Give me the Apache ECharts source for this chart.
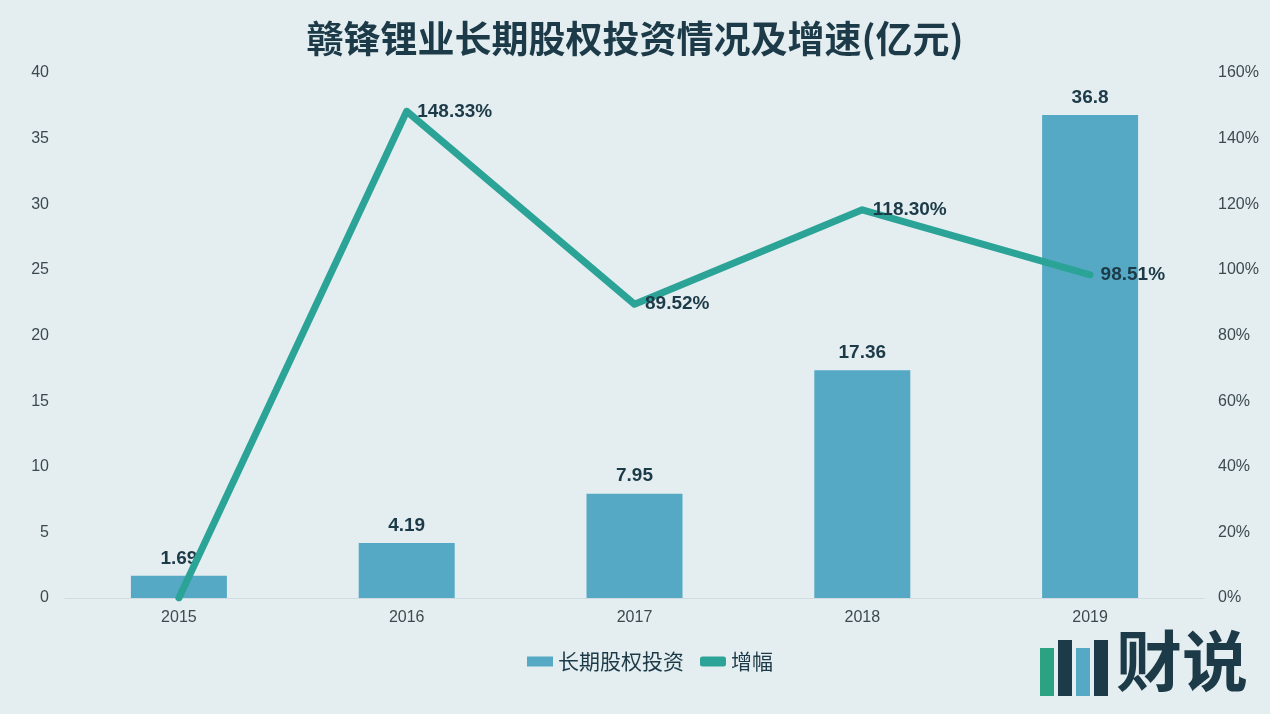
<!DOCTYPE html>
<html>
<head>
<meta charset="utf-8">
<script src="https://cdn.jsdelivr.net/npm/echarts@6/dist/echarts.min.js"></script>
<style>
  html, body { margin: 0; padding: 0; background: #e4eef0; }
  #chart { width: 1270px; height: 714px; }
</style>
</head>
<body>
<div id="chart"></div>
<script>
// 年份
const years = ['2015', '2016', '2017', '2018', '2019'];
// 长期股权投资（亿元）
const investment = [1.69, 4.19, 7.95, 17.36, 36.8];
// 增幅（%）
const growth = [0, 148.33, 89.52, 118.30, 98.51];

const barColor = '#55a9c4';
const lineColor = '#2ba397';
const textDark = '#1c3a48';
const font = '"Liberation Sans", "Noto Sans CJK SC", sans-serif';
const cjkFont = '"Noto Sans CJK SC", sans-serif';

const chart = echarts.init(document.getElementById('chart'));

const option = {
  backgroundColor: '#e4eef0',
  textStyle: { fontFamily: font },
  title: {
    text: '赣锋锂业长期股权投资情况及增速(亿元)',
    left: 'center',
    top: 15,
    textStyle: { color: textDark, fontSize: 37, fontWeight: 'bold', fontFamily: cjkFont },
  },
  legend: {
    bottom: 37,
    left: 522,
    itemGap: 16,
    itemWidth: 26,
    itemHeight: 10,
    textStyle: { color: textDark, fontSize: 21, fontFamily: cjkFont },
    data: [
      { name: '长期股权投资', icon: 'rect' },
      { name: '增幅', icon: 'roundRect' },
    ],
  },
  grid: { left: 65, right: 66, top: 73, bottom: 116 },
  xAxis: {
    type: 'category',
    data: years,
    axisTick: { show: false },
    axisLine: { lineStyle: { color: '#d0dcdf' } },
    axisLabel: { color: '#3c4a50', fontSize: 16, margin: 12 },
  },
  yAxis: [
    {
      type: 'value',
      min: 0,
      max: 40,
      interval: 5,
      splitLine: { show: false },
      axisLabel: { color: '#3c4a50', fontSize: 16, margin: 16 },
    },
    {
      type: 'value',
      min: 0,
      max: 160,
      interval: 20,
      splitLine: { show: false },
      axisLabel: { color: '#3c4a50', fontSize: 16, formatter: '{value}%', margin: 14 },
    },
  ],
  series: [
    {
      name: '长期股权投资',
      type: 'bar',
      data: investment,
      barWidth: 96,
      itemStyle: { color: barColor },
      label: {
        show: true,
        position: 'top',
        distance: 8,
        color: textDark,
        fontSize: 19,
        fontWeight: 'bold',
      },
    },
    {
      name: '增幅',
      type: 'line',
      yAxisIndex: 1,
      data: growth,
      symbol: 'circle',
      symbolSize: 1,
      showSymbol: true,
      lineStyle: { color: lineColor, width: 7, cap: 'round', join: 'round' },
      itemStyle: { color: lineColor },
      label: {
        show: true,
        position: 'right',
        distance: 10,
        color: textDark,
        fontSize: 19,
        fontWeight: 'bold',
        formatter: (p) => (p.dataIndex === 0 ? '' : p.value.toFixed(2) + '%'),
      },
      labelLayout: { hideOverlap: false },
      z: 3,
    },
  ],
  graphic: [
    {
      type: 'group',
      right: 22,
      bottom: 18,
      children: [
        { type: 'rect', shape: { x: 0, y: 22, width: 14, height: 48 }, style: { fill: '#2ba383' } },
        { type: 'rect', shape: { x: 18, y: 14, width: 14, height: 56 }, style: { fill: '#1c3a48' } },
        { type: 'rect', shape: { x: 36, y: 22, width: 14, height: 48 }, style: { fill: '#55a9c4' } },
        { type: 'rect', shape: { x: 54, y: 14, width: 14, height: 56 }, style: { fill: '#1c3a48' } },
        {
          type: 'text',
          x: 76,
          y: 2,
          style: {
            text: '财说',
            fill: '#1c3a48',
            font: 'bold 66px "Noto Sans CJK SC", sans-serif',
          },
        },
      ],
    },
  ],
};

chart.setOption(option);

window.addEventListener('resize', () => {
  chart.resize();
});
</script>
</body>
</html>
